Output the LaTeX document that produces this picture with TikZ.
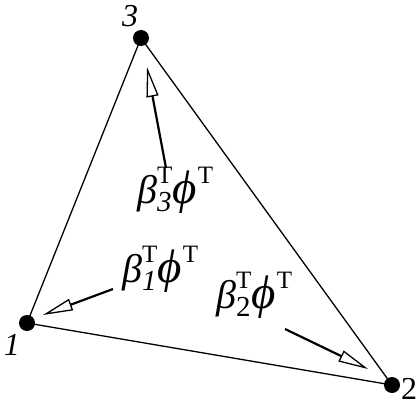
\documentclass[tikz,border=0pt]{standalone}
\usepackage{fontspec}
\setmainfont{Liberation Serif}
\usetikzlibrary{arrows.meta}

% beta_i^T phi^T label
\newcommand{\scripttxt}[1]{{\fontsize{25}{25}\selectfont\upshape #1}}
\newcommand{\betaphi}[1]{{\itshape β}\rlap{\raisebox{0.48em}{\scripttxt{T}}}\raisebox{-0.22em}{\fontsize{29}{29}\selectfont #1}\kern1pt{\fontsize{47}{47}\selectfont\itshape ϕ}\kern1pt\raisebox{0.48em}{\scripttxt{T}}}

\begin{document}
\begin{tikzpicture}[
  x=1pt, y=-1pt,
  vertex/.style={circle, fill=black, inner sep=0pt, minimum size=16pt},
  num/.style={font=\fontsize{32}{32}\selectfont, inner sep=0pt},
  coeff/.style={font=\fontsize{40}{40}\selectfont, inner sep=0pt, anchor=base west},
  edge/.style={line width=1.3pt},
  pointer/.style={-{Triangle[open, length=30pt, width=12pt, line width=1.3pt]}, line width=2.2pt}
]
\useasboundingbox (0,0) rectangle (420,412);

\node[vertex] (v1) at (27,323) {};
\node[vertex] (v2) at (392,385) {};
\node[vertex] (v3) at (141,38) {};
\draw[edge] (v1.center) -- (v2.center) -- (v3.center) -- cycle;

\node[num] (n1) at (12,345) {\textit{1}};
\node[num] (n2) at (409,389) {2};
\node[num] (n3) at (130,16) {\textit{3}};

\node[coeff] (c3) at (137,203) {\betaphi{\textit{3}}};
\node[coeff] (c1) at (122,282) {\betaphi{\textit{1}}};
\node[coeff] (c2) at (216,308) {\betaphi{2}};

\coordinate (t3) at (166,168);
\coordinate (h3) at (147,67);
\coordinate (t1) at (113,289);
\coordinate (h1) at (43,315);
\coordinate (t2) at (285,329);
\coordinate (h2) at (368,369);
\draw[pointer] (t3) -- (h3);
\draw[pointer] (t1) -- (h1);
\draw[pointer] (t2) -- (h2);

\end{tikzpicture}
\end{document}
